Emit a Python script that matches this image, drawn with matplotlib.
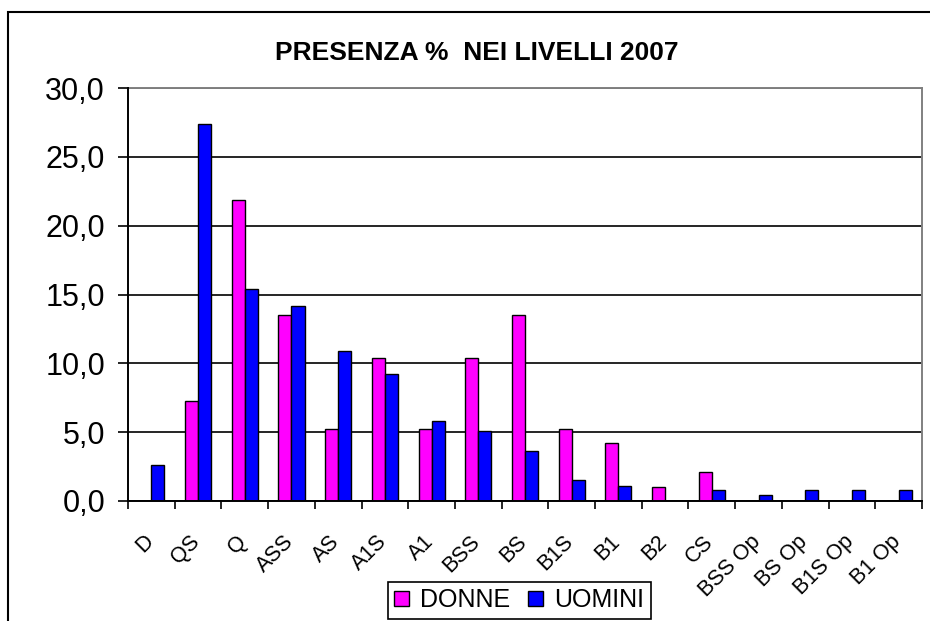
import numpy as np
import matplotlib.pyplot as plt
from matplotlib.patches import Rectangle
from matplotlib.ticker import FuncFormatter, FixedLocator
import matplotlib.transforms as mtransforms

plt.rcParams['font.family'] = ['Liberation Sans', 'DejaVu Sans']

livelli = ['D', 'QS', 'Q', 'ASS', 'AS', 'A1S', 'A1', 'BSS', 'BS', 'B1S',
           'B1', 'B2', 'CS', 'BSS Op', 'BS Op', 'B1S Op', 'B1 Op']
donne = [0.0, 7.3, 21.9, 13.5, 5.2, 10.4, 5.2, 10.4, 13.5, 5.2,
         4.2, 1.0, 2.1, 0.0, 0.0, 0.0, 0.0]
uomini = [2.6, 27.4, 15.4, 14.2, 10.9, 9.2, 5.8, 5.1, 3.6, 1.5,
          1.1, 0.0, 0.8, 0.4, 0.8, 0.8, 0.8]
y_ticks = [0, 5, 10, 15, 20, 25, 30]

fig = plt.figure(figsize=(9.3, 6.21), dpi=100)
ax = fig.add_axes([128/930, 1 - 501/621, 794/930, 413/621])

x = np.arange(len(livelli))
w = 0.28
ax.bar(x - w/2, donne, w, color='#FF00FF', edgecolor='black', linewidth=1.0,
       label='DONNE', zorder=3)
ax.bar(x + w/2, uomini, w, color='#0000FF', edgecolor='black', linewidth=1.0,
       label='UOMINI', zorder=3)

ax.set_xlim(-0.5, len(livelli) - 0.5)
ax.set_ylim(0, 30)

# y axis
ax.set_yticks(y_ticks)
ax.yaxis.set_major_formatter(FuncFormatter(lambda v, p: f'{v:.1f}'.replace('.', ',')))
ax.tick_params(axis='y', direction='out', length=7.5, width=1.2, pad=9,
               labelsize=22, color='black')
ax.grid(axis='y', color='black', linewidth=1.2, zorder=1)

# x axis: ticks on boundaries, labels on centres
ax.xaxis.set_major_locator(FixedLocator(x))
ax.set_xticklabels(livelli, rotation=45, ha='right', va='center',
                   rotation_mode='anchor', fontsize=15.5)
ax.tick_params(axis='x', which='major', length=0, pad=27)
ax.xaxis.set_minor_locator(FixedLocator(np.arange(len(livelli) + 1) - 0.5))
ax.tick_params(axis='x', which='minor', direction='out', length=5.5, width=1.2,
               color='black')
off = mtransforms.ScaledTranslation(-1/72, 0, fig.dpi_scale_trans)
for lab in ax.get_xticklabels():
    lab.set_transform(lab.get_transform() + off)

for s in ['left', 'bottom']:
    ax.spines[s].set_color('black')
    ax.spines[s].set_linewidth(1.4)
    ax.spines[s].set_zorder(4)
for s in ['top', 'right']:
    ax.spines[s].set_color('#808080')
    ax.spines[s].set_linewidth(1.4)

fig.text(477/930, 1 - 60/621, 'PRESENZA %  NEI LIVELLI 2007', ha='center',
         va='baseline', fontsize=19, fontweight='bold')

# outer chart frame (cropped at right and bottom)
fig.patches.append(Rectangle((8/930, -0.2), 1.5, 1.2 - 12/621, fill=False,
                             edgecolor='black', linewidth=1.5,
                             transform=fig.transFigure))

leg = fig.legend(loc='upper left', bbox_to_anchor=(388/930, 1 - 582/621),
                 ncol=2, fontsize=18, frameon=True, fancybox=False,
                 edgecolor='black', framealpha=1, handlelength=0.6,
                 handleheight=0.6, handletextpad=0.45, columnspacing=0.7,
                 borderpad=0.25, borderaxespad=0)
leg.get_frame().set_linewidth(1.2)

fig.savefig('out.png', dpi=100)
